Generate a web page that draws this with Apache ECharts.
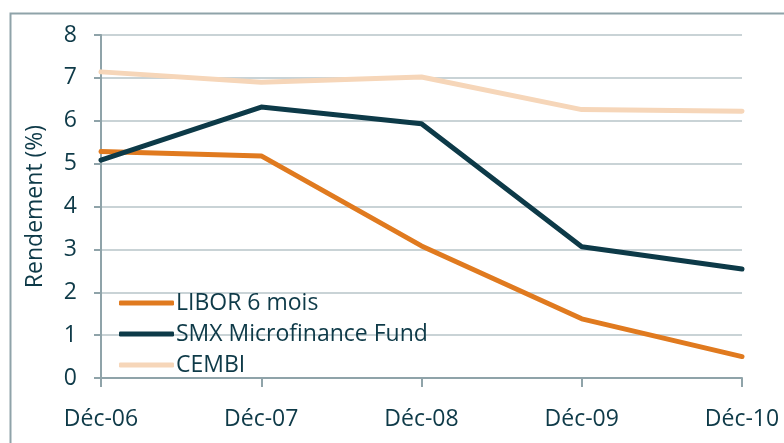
<!DOCTYPE html>
<html>
<head>
<meta charset="utf-8">
<script src="https://cdn.jsdelivr.net/npm/echarts@6/dist/echarts.min.js"></script>
<style>
  html, body { margin: 0; padding: 0; background: #fff; }
  #chart { width: 784px; height: 443px; }
</style>
</head>
<body>
<div id="chart"></div>
<script>
const categories = ['Déc-06', 'Déc-07', 'Déc-08', 'Déc-09', 'Déc-10']
const libor = [5.28, 5.18, 3.08, 1.38, 0.5]
const smx = [5.08, 6.32, 5.93, 3.06, 2.54]
const cembi = [7.14, 6.9, 7.02, 6.26, 6.22]

const textColor = '#0E3A48'
const axisColor = '#8FA3A9'
const gridColor = '#C9D3D6'
const font = '"Open Sans", sans-serif'

const chart = echarts.init(document.getElementById('chart'))

const lineSeries = (name, data, color) => ({
  name,
  type: 'line',
  data,
  symbol: 'none',
  lineStyle: { color, width: 5, cap: 'round', join: 'round' },
  itemStyle: { color },
})

chart.setOption({
  backgroundColor: '#fff',
  animation: false,
  graphic: [
    {
      type: 'rect',
      shape: { x: 10.5, y: 13.5, width: 800, height: 500 },
      style: { fill: 'none', stroke: '#8FA3A9', lineWidth: 2 },
      silent: true,
    },
  ],
  grid: { left: 101, right: 42, top: 35, bottom: 65 },
  legend: {
    orient: 'vertical',
    left: 114,
    top: 284,
    itemWidth: 55,
    itemHeight: 5,
    itemGap: 3,
    icon: 'roundRect',
    textStyle: { color: textColor, fontSize: 23, lineHeight: 28, fontFamily: font, padding: [0, 0, 0, -3] },
    data: ['LIBOR 6 mois', 'SMX Microfinance Fund', 'CEMBI'],
  },
  xAxis: {
    type: 'category',
    data: categories,
    boundaryGap: false,
    axisLine: { lineStyle: { color: axisColor, width: 2 } },
    axisTick: { show: true, length: 9, alignWithLabel: true, lineStyle: { color: axisColor, width: 2 } },
    axisLabel: { color: textColor, fontSize: 23, fontFamily: font, margin: 30 },
  },
  yAxis: {
    type: 'value',
    min: 0,
    max: 8,
    interval: 1,
    name: 'Rendement (%)',
    nameLocation: 'middle',
    nameGap: 54,
    nameTextStyle: { color: textColor, fontSize: 23, fontFamily: font },
    axisLine: { show: true, lineStyle: { color: axisColor, width: 2 } },
    axisTick: { show: true, length: 7, lineStyle: { color: axisColor, width: 2 } },
    axisLabel: { color: textColor, fontSize: 23, fontFamily: font, margin: 24 },
    splitLine: { lineStyle: { color: gridColor, width: 2 } },
  },
  series: [
    lineSeries('LIBOR 6 mois', libor, '#E07A1F'),
    lineSeries('SMX Microfinance Fund', smx, '#0D3A48'),
    lineSeries('CEMBI', cembi, '#F6D6B9'),
  ],
})
</script>
</body>
</html>
